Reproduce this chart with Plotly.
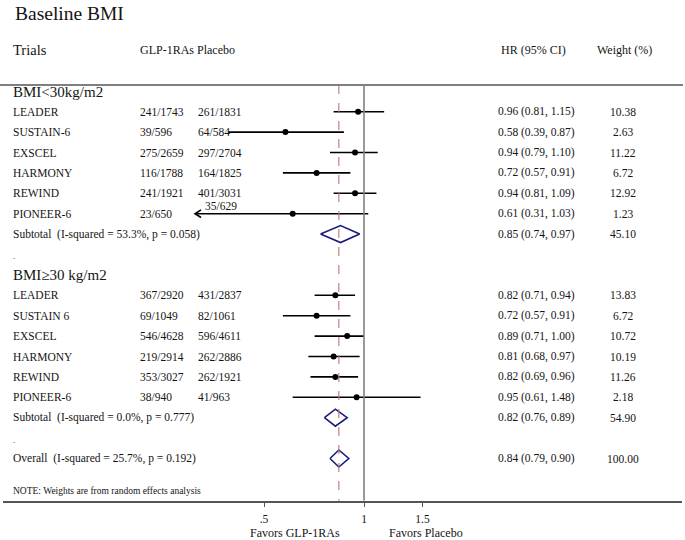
import math
import plotly.graph_objects as go

# ---------------- data ----------------
title = "Baseline BMI"
group_labels = ["BMI<30kg/m2", "BMI\u226530 kg/m2"]

trials1 = ["LEADER", "SUSTAIN-6", "EXSCEL", "HARMONY", "REWIND", "PIONEER-6"]
glp1 = ["241/1743", "39/596", "275/2659", "116/1788", "241/1921", "23/650"]
plac1 = ["261/1831", "64/584", "297/2704", "164/1825", "401/3031", "35/629"]
hr1 = [0.96, 0.58, 0.94, 0.72, 0.94, 0.61]
lo1 = [0.81, 0.39, 0.79, 0.57, 0.81, 0.31]
hi1 = [1.15, 0.87, 1.10, 0.91, 1.09, 1.03]
w1 = ["10.38", "2.63", "11.22", "6.72", "12.92", "1.23"]
sub1 = [0.85, 0.74, 0.97]
sub1_w = "45.10"
sub1_txt = "Subtotal\u00a0 (I-squared = 53.3%, p = 0.058)"

trials2 = ["LEADER", "SUSTAIN 6", "EXSCEL", "HARMONY", "REWIND", "PIONEER-6"]
glp2 = ["367/2920", "69/1049", "546/4628", "219/2914", "353/3027", "38/940"]
plac2 = ["431/2837", "82/1061", "596/4611", "262/2886", "262/1921", "41/963"]
hr2 = [0.82, 0.72, 0.89, 0.81, 0.82, 0.95]
lo2 = [0.71, 0.57, 0.71, 0.68, 0.69, 0.61]
hi2 = [0.94, 0.91, 1.00, 0.97, 0.96, 1.48]
w2 = ["13.83", "6.72", "10.72", "10.19", "11.26", "2.18"]
sub2 = [0.82, 0.76, 0.89]
sub2_w = "54.90"
sub2_txt = "Subtotal\u00a0 (I-squared = 0.0%, p = 0.777)"

overall = [0.84, 0.79, 0.90]
overall_w = "100.00"
overall_txt = "Overall\u00a0 (I-squared = 25.7%, p = 0.192)"

tick_vals = [0.5, 1, 1.5]
tick_text = [".5", "1", "1.5"]
note = "NOTE: Weights are from random effects analysis"

# ---------------- layout helpers ----------------
W, H = 685, 540
FONT = "Liberation Serif"
TXT = "#141414"
NAVY = "#1b1b7a"
clip_lo = 0.35           # CIs below this get an arrow
AX_Y = 500.7             # pixel y of x-axis line
PX_PER_LOG10 = 332.2
X1_PX = 364.0
XD0, XD1 = 3, 682
xr = [(XD0 - X1_PX) / PX_PER_LOG10, (XD1 - X1_PX) / PX_PER_LOG10]

step = 20.4
g1_head = 92
g1_rows = [111.7 + i * step for i in range(len(trials1))]
g1_sub = g1_rows[-1] + step
dot1 = g1_sub + 22
g2_head = 275
g2_rows = [295.3 + i * step for i in range(len(trials2))]
g2_sub = g2_rows[-1] + step
dot2 = g2_sub + 22
ov_y = g2_sub + 2 * step
note_y = 491

COL_NAME, COL_GLP, COL_PLA, COL_HR, COL_W = 11, 138, 196, 496, 623

fig = go.Figure()
ann = []


def px(x):
    return x / W


def text(x, y, s, size=11.5, anchor="left", yref="y"):
    ann.append(dict(x=px(x), y=y, xref="paper", yref=yref, text=s, showarrow=False,
                    xanchor=anchor, yanchor="middle",
                    font=dict(family=FONT, size=size, color=TXT)))


def ci_text(h, l, u):
    return f"{h:.2f} ({l:.2f}, {u:.2f})"


ci_x, ci_y, pt_x, pt_y, dia_x, dia_y = [], [], [], [], [], []
arr_x, arr_y = [], []

groups = [
    (group_labels[0], g1_head, trials1, glp1, plac1, hr1, lo1, hi1, w1, g1_rows, sub1, sub1_w, sub1_txt, g1_sub, dot1),
    (group_labels[1], g2_head, trials2, glp2, plac2, hr2, lo2, hi2, w2, g2_rows, sub2, sub2_w, sub2_txt, g2_sub, dot2),
]

k_arrow = 10 ** (6 / PX_PER_LOG10)

for (glab, gy, tr, gl, pl, hr, lo, hi, ww, rows, sub, subw, subtxt, suby, doty) in groups:
    text(COL_NAME, gy, glab, size=15)
    for i in range(len(tr)):
        y = rows[i]
        text(COL_NAME, y, tr[i])
        text(COL_GLP, y, gl[i])
        if lo[i] < clip_lo:
            text(203, y - 8, pl[i])
        else:
            text(COL_PLA, y, pl[i])
        text(COL_HR, y, ci_text(hr[i], lo[i], hi[i]))
        text(COL_W, y, ww[i], anchor="center")
        ci_x += [lo[i], hi[i], None]
        ci_y += [y, y, None]
        pt_x.append(hr[i])
        pt_y.append(y)
        if lo[i] < clip_lo:
            arr_x += [lo[i] * k_arrow, lo[i], lo[i] * k_arrow, None]
            arr_y += [y - 3.8, y, y + 3.8, None]
    text(COL_NAME, suby, subtxt)
    text(COL_HR, suby, ci_text(*sub))
    text(COL_W, suby, subw, anchor="center")
    dia_x += [sub[1], sub[0], sub[2], sub[0], sub[1], None]
    dia_y += [suby, suby - 8.5, suby, suby + 8.5, suby, None]
    text(COL_NAME, doty, ".", size=9)

# overall
text(COL_NAME, ov_y, overall_txt)
text(COL_HR, ov_y, ci_text(*overall))
text(COL_W, ov_y, overall_w, anchor="center")
dia_x += [overall[1], overall[0], overall[2], overall[0], overall[1], None]
dia_y += [ov_y, ov_y - 8.5, ov_y, ov_y + 8.5, ov_y, None]

# headers
text(13, 13, title, size=19.5)
text(COL_NAME, 50, "Trials", size=14.5)
text(COL_GLP, 50, "GLP-1RAs Placebo", size=12)
text(499, 50, "HR (95% CI)", size=12)
text(595, 50, "Weight (%)", size=12)
text(COL_NAME, note_y, note, size=9.5)
text(295, 1 - 532.7 / H, "Favors GLP-1RAs", size=12, anchor="center", yref="paper")
text(426, 1 - 532.7 / H, "Favors Placebo", size=12, anchor="center", yref="paper")

fig.add_trace(go.Scatter(x=ci_x, y=ci_y, mode="lines", line=dict(color="black", width=1.6),
                         hoverinfo="skip", showlegend=False))
fig.add_trace(go.Scatter(x=arr_x, y=arr_y, mode="lines", line=dict(color="black", width=1.6),
                         hoverinfo="skip", showlegend=False))
fig.add_trace(go.Scatter(x=pt_x, y=pt_y, mode="markers", marker=dict(color="black", size=6),
                         showlegend=False))
fig.add_trace(go.Scatter(x=dia_x, y=dia_y, mode="lines", line=dict(color=NAVY, width=1.6),
                         hoverinfo="skip", showlegend=False))

shapes = [
    dict(type="line", xref="paper", yref="y", x0=0, x1=px(683), y0=85, y1=85,
         line=dict(color="#555555", width=1.5)),
    dict(type="line", xref="x", yref="y", x0=1, x1=1, y0=85, y1=AX_Y,
         line=dict(color="#808080", width=1.6)),
    dict(type="line", xref="x", yref="y", x0=overall[0], x1=overall[0], y0=85, y1=AX_Y,
         line=dict(color="#b87878", width=1.1, dash="dash")),
]

fig.update_layout(
    width=W, height=H,
    margin=dict(l=0, r=0, t=0, b=0),
    paper_bgcolor="white", plot_bgcolor="white",
    annotations=ann, shapes=shapes,
    xaxis=dict(type="log", range=xr, domain=[XD0 / W, XD1 / W],
               showgrid=False, zeroline=False, showline=True, linecolor="#555555", linewidth=1.5,
               ticks="outside", ticklen=5, tickwidth=1.2, tickcolor="#555555",
               tickvals=tick_vals, ticktext=tick_text, ticklabelstandoff=2,
               tickfont=dict(family=FONT, size=11.5, color=TXT), fixedrange=True),
    yaxis=dict(range=[AX_Y, 0], domain=[1 - AX_Y / H, 1], visible=False,
               showgrid=False, zeroline=False, fixedrange=True),
)

fig.write_html("out.html", config={"displayModeBar": False},
               post_script="document.body.style.margin='0';document.body.style.overflow='hidden';")
